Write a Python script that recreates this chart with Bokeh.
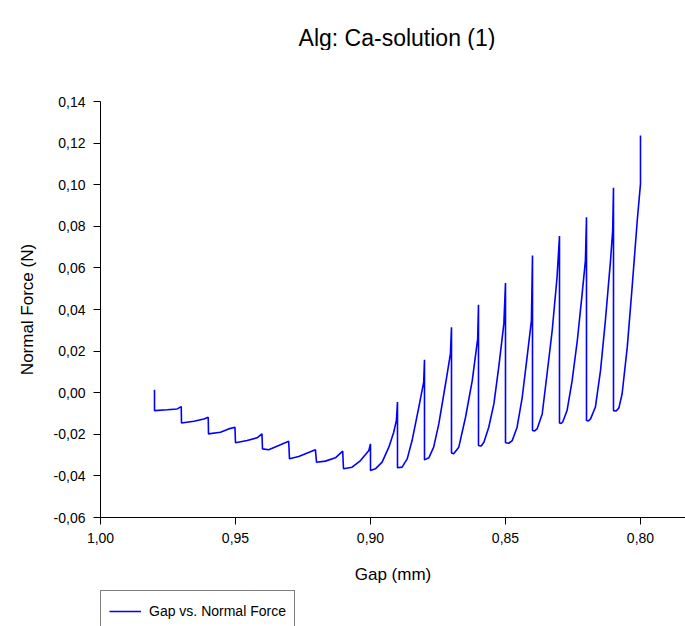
from bokeh.plotting import figure
from bokeh.layouts import column
from bokeh.models import (Range1d, FixedTicker, CustomJSTickFormatter, Legend, LegendItem, Label)
from bokeh.embed import file_html
from bokeh.resources import INLINE

# ---- data ----
gap = [
    0.9800, 0.9800, 0.9753, 0.9716, 0.9701,
    0.9700, 0.9654, 0.9617, 0.9601,
    0.9600, 0.9556, 0.9525, 0.9502,
    0.9500, 0.9457, 0.9420, 0.9402,
    0.9400, 0.9377, 0.9340, 0.9303,
    0.9300, 0.9266, 0.9234, 0.9204,
    0.9200, 0.9167, 0.9130, 0.9103,
    0.9100, 0.9068, 0.9037, 0.9006, 0.9000,
    0.9000, 0.8982, 0.8957, 0.8932, 0.8914, 0.8904, 0.8900,
    0.8900, 0.8883, 0.8864, 0.8846, 0.8821, 0.8803, 0.8800,
    0.8800, 0.8784, 0.8766, 0.8747, 0.8722, 0.8704, 0.8700,
    0.8700, 0.8692, 0.8673, 0.8648, 0.8623, 0.8603, 0.8600,
    0.8600, 0.8590, 0.8580, 0.8562, 0.8543, 0.8525, 0.8506, 0.8500,
    0.8500, 0.8488, 0.8475, 0.8457, 0.8438, 0.8420, 0.8404, 0.8400,
    0.8400, 0.8392, 0.8383, 0.8364, 0.8346, 0.8327, 0.8309, 0.8300,
    0.8300, 0.8294, 0.8288, 0.8272, 0.8253, 0.8234, 0.8216, 0.8204, 0.8200,
    0.8200, 0.8193, 0.8185, 0.8167, 0.8148, 0.8130, 0.8111, 0.8103, 0.8100,
    0.8100, 0.8090, 0.8080, 0.8068, 0.8049, 0.8031, 0.8012, 0.8000, 0.8000,
]
normal_force = [
    0.0014, -0.0086, -0.0082, -0.0078, -0.0067,
    -0.0146, -0.0137, -0.0126, -0.0118,
    -0.0198, -0.0190, -0.0174, -0.0166,
    -0.0241, -0.0230, -0.0217, -0.0198,
    -0.0270, -0.0274, -0.0254, -0.0233,
    -0.0318, -0.0307, -0.0290, -0.0274,
    -0.0334, -0.0329, -0.0313, -0.0281,
    -0.0366, -0.0358, -0.0326, -0.0278, -0.0246,
    -0.0374, -0.0366, -0.0334, -0.0262, -0.0190, -0.0133, -0.0045,
    -0.0361, -0.0358, -0.0318, -0.0230, -0.0069, 0.0051, 0.0158,
    -0.0323, -0.0313, -0.0262, -0.0150, 0.0043, 0.0187, 0.0315,
    -0.0290, -0.0294, -0.0262, -0.0118, 0.0059, 0.0260, 0.0423,
    -0.0254, -0.0256, -0.0238, -0.0166, -0.0054, 0.0123, 0.0332, 0.0527,
    -0.0241, -0.0243, -0.0230, -0.0166, -0.0022, 0.0171, 0.0347, 0.0660,
    -0.0182, -0.0184, -0.0174, -0.0102, 0.0091, 0.0299, 0.0556, 0.0753,
    -0.0146, -0.0148, -0.0141, -0.0086, 0.0059, 0.0251, 0.0476, 0.0635, 0.0844,
    -0.0134, -0.0136, -0.0126, -0.0069, 0.0107, 0.0347, 0.0635, 0.0780, 0.0985,
    -0.0086, -0.0088, -0.0073, -0.0005, 0.0219, 0.0507, 0.0828, 0.1004, 0.1237,
]
x_ticks = [1.00, 0.95, 0.90, 0.85, 0.80]
y_ticks = [-0.06, -0.04, -0.02, 0.00, 0.02, 0.04, 0.06, 0.08, 0.10, 0.12, 0.14]
title_text = "Alg: Ca-solution (1)"
x_label = "Gap (mm)"
y_label = "Normal Force (N)"
series_label = "Gap vs. Normal Force"

FONT = "Liberation Sans"
LINE_COLOR = "#0000FF"


def blank_strip(height):
    f = figure(width=685, height=height, output_backend="svg", toolbar_location=None,
               x_range=Range1d(0, 1), y_range=Range1d(10, 11),
               x_axis_type=None, y_axis_type=None,
               min_border_left=0, min_border_right=0, min_border_top=0, min_border_bottom=0)
    f.outline_line_color = None
    f.xgrid.visible = False
    f.ygrid.visible = False
    f.background_fill_color = "white"
    f.border_fill_color = "white"
    return f


# --- title strip ---
p0 = blank_strip(50)
p0.add_layout(Label(x=0.5, x_units="data", y=13, y_units="screen", x_offset=4,
                    text=title_text, text_align="center", text_baseline="alphabetic",
                    text_font=FONT, text_font_size="23px", text_color="black"))

# --- main chart ---
p = figure(width=685, height=539, output_backend="svg", toolbar_location=None,
           x_range=Range1d(1.0, 0.78333), y_range=Range1d(-0.06, 0.14),
           min_border_left=100, min_border_right=0, min_border_top=51,
           min_border_bottom=72, x_axis_label=x_label, y_axis_label=y_label)

p.outline_line_color = None
p.xgrid.visible = False
p.ygrid.visible = False
p.background_fill_color = "white"
p.border_fill_color = "white"

fmt = CustomJSTickFormatter(code="""
if (Math.abs(tick) < 1e-9) { return '0,00'; }
return tick.toFixed(2).replace('.', ',');
""")

for ax, ticks in ((p.xaxis[0], x_ticks), (p.yaxis[0], y_ticks)):
    ax.ticker = FixedTicker(ticks=ticks)
    ax.formatter = fmt
    ax.axis_line_color = "black"
    ax.axis_line_width = 1
    ax.major_tick_line_color = "black"
    ax.major_tick_out = 7
    ax.major_tick_in = 0
    ax.minor_tick_line_color = None
    ax.major_label_text_font = FONT
    ax.major_label_text_font_size = "14px"
    ax.major_label_text_color = "black"
    ax.axis_label_text_font = FONT
    ax.axis_label_text_font_size = "17px"
    ax.axis_label_text_font_style = "normal"
    ax.axis_label_text_color = "black"

p.xaxis[0].major_label_standoff = 8
p.xaxis[0].axis_label_standoff = 19
p.yaxis[0].major_label_standoff = 8
p.yaxis[0].axis_label_standoff = 14

r = p.line(gap, normal_force, line_color=LINE_COLOR, line_width=1.6)

# --- strip below the chart that carries the legend box (cut at the window edge) ---
p2 = blank_strip(37)
r2 = p2.line(gap, normal_force, line_color=LINE_COLOR, line_width=1.6)

legend = Legend(items=[LegendItem(label=series_label, renderers=[r2])],
                location=(0, -6), orientation="vertical",
                border_line_color="black", border_line_width=1,
                background_fill_alpha=1.0, padding=8, margin=0,
                glyph_width=32, glyph_height=24, label_standoff=8,
                label_text_font=FONT, label_text_font_size="14px",
                label_text_color="black")
p2.add_layout(legend, "center")

layout = column(p0, p, p2, spacing=0)
open("out.html", "w").write(file_html(layout, INLINE))
